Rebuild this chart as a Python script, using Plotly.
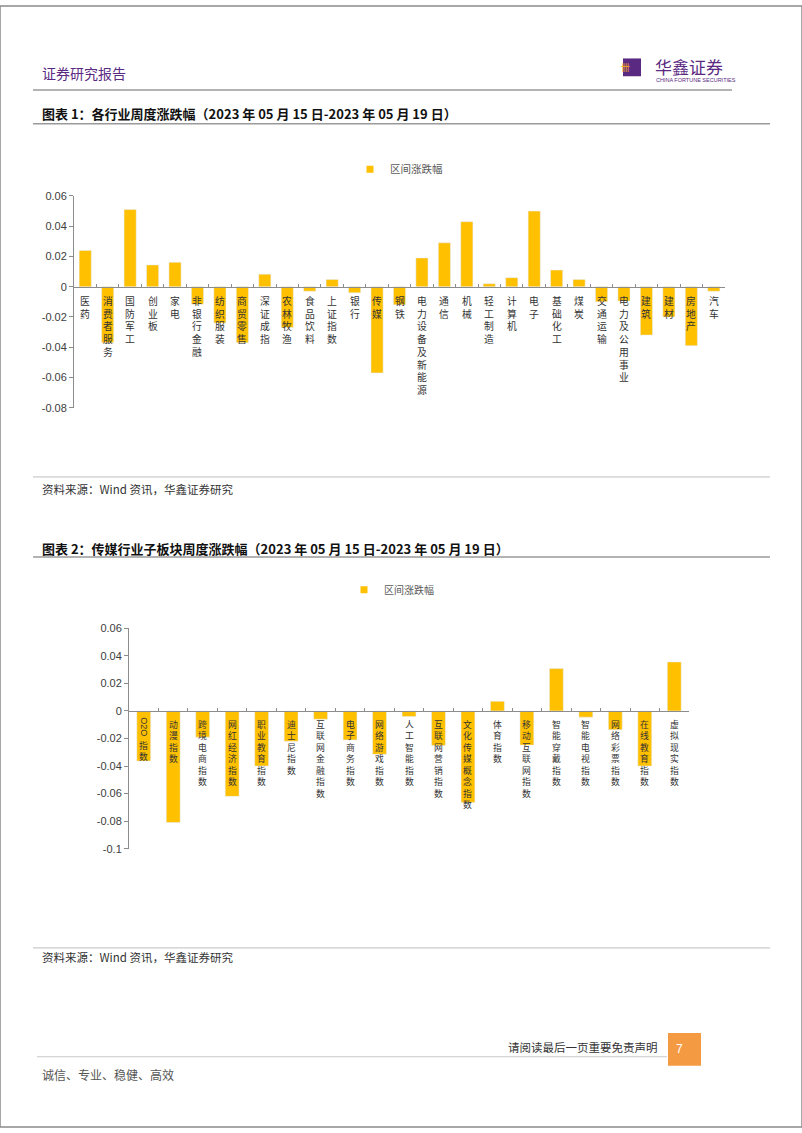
import re
import plotly.graph_objects as go

W, H = 802, 1133

# ---------------- data ----------------
cats1 = ["医药", "消费者服务", "国防军工", "创业板", "家电", "非银行金融", "纺织服装", "商贸零售",
         "深证成指", "农林牧渔", "食品饮料", "上证指数", "银行", "传媒", "钢铁", "电力设备及新能源",
         "通信", "机械", "轻工制造", "计算机", "电子", "基础化工", "煤炭", "交通运输",
         "电力及公用事业", "建筑", "建材", "房地产", "汽车"]
vals1 = [0.024, -0.037, 0.051, 0.0144, 0.0161, -0.0116, -0.024, -0.037,
         0.0083, -0.027, -0.003, 0.0048, -0.004, -0.057, -0.012, 0.019,
         0.029, 0.043, 0.002, 0.006, 0.050, 0.011, 0.0048, -0.010,
         -0.0095, -0.032, -0.020, -0.039, -0.003]

cats2 = ["O2O指数", "动漫指数", "跨境电商指数", "网红经济指数", "职业教育指数", "迪士尼指数",
         "互联网金融指数", "电子商务指数", "网络游戏指数", "人工智能指数", "互联网营销指数",
         "文化传媒概念指数", "体育指数", "移动互联网指数", "智能穿戴指数", "智能电视指数",
         "网络彩票指数", "在线教育指数", "虚拟现实指数"]
vals2 = [-0.0363, -0.081, -0.019, -0.062, -0.040, -0.022,
         -0.006, -0.021, -0.0315, -0.004, -0.025,
         -0.0664, 0.007, -0.0248, 0.0308, -0.0045,
         -0.0136, -0.040, 0.0356]

yticks1 = [0.06, 0.04, 0.02, 0, -0.02, -0.04, -0.06, -0.08]
yticklabels1 = ["0.06", "0.04", "0.02", "0", "-0.02", "-0.04", "-0.06", "-0.08"]
yticks2 = [0.06, 0.04, 0.02, 0, -0.02, -0.04, -0.06, -0.08, -0.1]
yticklabels2 = ["0.06", "0.04", "0.02", "0", "-0.02", "-0.04", "-0.06", "-0.08", "-0.1"]

series_name = "区间涨跌幅"
title1 = "图表 1：各行业周度涨跌幅（2023 年 05 月 15 日-2023 年 05 月 19 日）"
title2 = "图表 2：传媒行业子板块周度涨跌幅（2023 年 05 月 15 日-2023 年 05 月 19 日）"
source_text = "资料来源：Wind 资讯，华鑫证券研究"

# ---------------- styles ----------------
BAR = "#FFC000"
AXIS = "#8c8c8c"
TXT = "#333333"
PURPLE = "#5a2a82"
CJK = "Noto Sans CJK SC"
LAT = "Liberation Sans, Arial"


def px(x):
    return x / W


def py(y):
    return 1 - y / H


# plot areas (page pixels)
c1 = dict(x0=74, x1=725, ytop=192, ybot=406, rng=(-0.08, 0.06))
c2 = dict(x0=129, x1=689, ytop=629, ybot=851.7, rng=(-0.1, 0.06))


def zero_pos(c):
    d0, d1 = py(c["ybot"]), py(c["ytop"])
    lo, hi = c["rng"]
    return d0 + (0 - lo) / (hi - lo) * (d1 - d0)


fig = go.Figure()
fig.add_trace(go.Bar(x=cats1, y=vals1, marker_color=BAR, width=0.54, name=series_name,
                     showlegend=False, xaxis="x", yaxis="y", hoverinfo="skip"))
fig.add_trace(go.Bar(x=cats2, y=vals2, marker_color=BAR, width=0.47, name=series_name,
                     showlegend=False, xaxis="x2", yaxis="y2", hoverinfo="skip"))
# legend entries (square markers)
fig.add_trace(go.Scatter(x=[None], y=[None], mode="markers", name=series_name,
                         marker=dict(symbol="square", size=7, color=BAR),
                         xaxis="x", yaxis="y", legend="legend"))
fig.add_trace(go.Scatter(x=[None], y=[None], mode="markers", name=series_name,
                         marker=dict(symbol="square", size=7, color=BAR),
                         xaxis="x2", yaxis="y2", legend="legend2"))


def xaxis_cfg(c, cats):
    return dict(domain=[px(c["x0"]), px(c["x1"])], type="category",
                categoryorder="array", categoryarray=cats,
                range=[-0.5, len(cats) - 0.5], anchor="free", position=zero_pos(c),
                showline=True, linecolor=AXIS, linewidth=1,
                ticks="inside", tickson="boundaries", ticklen=3, tickcolor=AXIS,
                showticklabels=False, showgrid=False, zeroline=False, fixedrange=True)


def yaxis_cfg(c, tv, tt, anchor):
    return dict(domain=[py(c["ybot"]), py(c["ytop"])], range=list(c["rng"]),
                tickvals=tv, ticktext=tt, anchor=anchor,
                showline=True, linecolor=AXIS, linewidth=1,
                ticks="outside", ticklen=4, tickcolor=AXIS,
                tickfont=dict(family=LAT, size=11, color="#404040"),
                showgrid=False, zeroline=False, fixedrange=True)


annotations = []
shapes = []


def add_labels(cats, xref, yref, shift, size, ascii_size):
    """Vertical category labels hanging below the zero line."""
    for cat in cats:
        m = re.match(r"([A-Za-z0-9]+)(.*)", cat)
        s = shift
        if m:
            latin, rest = m.group(1), m.group(2)
            length = len(latin) * ascii_size * 0.66
            annotations.append(dict(x=cat, y=0, xref=xref, yref=yref, text=latin,
                                    showarrow=False, textangle=90,
                                    xanchor="center", yanchor="middle",
                                    yshift=-(s + length / 2 + 2),
                                    font=dict(family=LAT, size=ascii_size, color=TXT)))
            s = s + length + 3
        else:
            rest = cat
        annotations.append(dict(x=cat, y=0, xref=xref, yref=yref,
                                text="<br>".join(list(rest)),
                                showarrow=False, xanchor="center", yanchor="top",
                                yshift=-s,
                                font=dict(family=CJK, size=size, color=TXT)))


add_labels(cats1, "x", "y", shift=5, size=9.8, ascii_size=9.5)
add_labels(cats2, "x2", "y2", shift=5, size=8.8, ascii_size=9)


def page_text(x, y, text, size, color=TXT, xanchor="left", bold=False, family=CJK):
    t = f"<b>{text}</b>" if bold else text
    annotations.append(dict(x=px(x), y=py(y), xref="paper", yref="paper", text=t,
                            showarrow=False, xanchor=xanchor, yanchor="middle",
                            font=dict(family=family, size=size, color=color)))


def hline(x0, x1, y, color="#a6a6a6", width=1.2):
    shapes.append(dict(type="line", xref="paper", yref="paper",
                       x0=px(x0), x1=px(x1), y0=py(y), y1=py(y),
                       line=dict(color=color, width=width)))


# header
page_text(40, 68, "证券研究报告", 14, color=PURPLE)
hline(33, 732, 85, color="#9a9a9a", width=1.5)
shapes.append(dict(type="rect", xref="paper", yref="paper", x0=px(623), x1=px(641),
                   y0=py(71), y1=py(53), fillcolor=PURPLE, line=dict(width=0)))
annotations.append(dict(x=px(632), y=py(62), xref="paper", yref="paper", text="卌",
                        showarrow=False, yanchor="middle",
                        font=dict(family=CJK, size=9, color="#f5a623")))
page_text(653, 61, "华鑫证券", 17, color=PURPLE)
page_text(654, 74.5, "CHINA FORTUNE SECURITIES", 5.5, color=PURPLE, family=LAT)

# chart 1 frame
page_text(40, 109, title1, 13, color="#111111", bold=True)
hline(33, 770, 119, color="#9a9a9a", width=1.5)
hline(33, 770, 476, color="#bdbdbd", width=1)
page_text(40, 488, source_text, 11.5, color=TXT)

# chart 2 frame
page_text(40, 548, title2, 13, color="#111111", bold=True)
hline(33, 770, 557, color="#9a9a9a", width=1.5)
hline(33, 770, 952, color="#bdbdbd", width=1)
page_text(40, 961, source_text, 11.5, color=TXT)

# footer
page_text(660, 1052, "请阅读最后一页重要免责声明", 11.5, color=TXT, xanchor="right")
hline(37, 667, 1062, color="#c8c8c8", width=1)
shapes.append(dict(type="rect", xref="paper", yref="paper", x0=px(668), x1=px(701),
                   y0=py(1071), y1=py(1038), fillcolor="#f39a43", line=dict(width=0)))
annotations.append(dict(x=px(684.5), y=py(1054), xref="paper", yref="paper", text="7",
                        showarrow=False, yanchor="middle",
                        font=dict(family=LAT, size=12, color="white")))
page_text(40, 1080, "诚信、专业、稳健、高效", 12, color="#555555")

# page border
shapes.append(dict(type="rect", xref="paper", yref="paper", x0=0, x1=1, y0=0, y1=1,
                   line=dict(color="#8a8a8a", width=1.5)))

fig.update_layout(
    width=W, height=H, margin=dict(l=0, r=0, t=0, b=0),
    paper_bgcolor="white", plot_bgcolor="white",
    xaxis=xaxis_cfg(c1, cats1), yaxis=yaxis_cfg(c1, yticks1, yticklabels1, "x"),
    xaxis2=xaxis_cfg(c2, cats2), yaxis2=yaxis_cfg(c2, yticks2, yticklabels2, "x2"),
    legend=dict(x=px(350), y=py(165), xanchor="left", yanchor="middle",
                font=dict(family=CJK, size=10.5, color="#595959"),
                bgcolor="rgba(0,0,0,0)", itemwidth=30),
    legend2=dict(x=px(344), y=py(590), xanchor="left", yanchor="middle",
                 font=dict(family=CJK, size=10, color="#595959"),
                 bgcolor="rgba(0,0,0,0)", itemwidth=30),
    annotations=annotations, shapes=shapes, bargap=0.4,
)

post = ("document.documentElement.style.margin='0';"
        "document.body.style.margin='0';document.body.style.padding='0';"
        "document.body.style.overflow='hidden';"
        "var g=document.getElementById('{plot_id}');"
        "g.style.position='absolute';g.style.left='0px';g.style.top='0px';")

fig.write_html("out.html", post_script=post, config={"displayModeBar": False})
